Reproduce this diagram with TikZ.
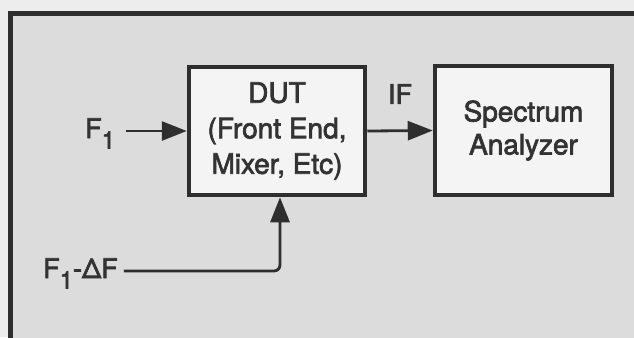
\documentclass[tikz,border=0pt]{standalone}
\usepackage{fontspec}
\setmainfont{TeX Gyre Heros}[FakeBold=2.5]
\usetikzlibrary{arrows.meta,calc}
\definecolor{bgin}{HTML}{DCDCDC}
\definecolor{bgout}{HTML}{EDEDED}
\definecolor{boxfill}{HTML}{F4F4F4}
\definecolor{linec}{HTML}{2E2E2E}
\definecolor{textc}{HTML}{333333}
\newcommand{\subone}{\raisebox{-10.5bp}{\fontsize{24bp}{24bp}\selectfont 1}}
\begin{document}
\begin{tikzpicture}[x=1bp,y=-1bp,
  frame/.style={line width=5bp, draw=linec},
  blk/.style={draw=linec, fill=boxfill, line width=4.5bp, align=center, text=textc, inner sep=0pt},
  lbl/.style={text=textc, font=\fontsize{27bp}{34bp}\selectfont, inner sep=0pt},
  arr/.style={line width=2.8bp, draw=linec, -{Triangle[length=25bp,width=19bp]}}]
\useasboundingbox (0,0) rectangle (634,337);
\clip (0,0) rectangle (634,337);
\fill[bgout] (0,0) rectangle (634,337);
\fill[bgin] (10,13) rectangle (645,350);
\draw[frame] (10,350) -- (10,13) -- (645,13);

\node[blk, minimum width=176bp, minimum height=128bp, font=\fontsize{28bp}{35.5bp}\selectfont] (dut) at (277,131) {DUT\\(Front End,\\Mixer, Etc)};
\node[blk, minimum width=177bp, minimum height=129bp, font=\fontsize{28bp}{33bp}\selectfont] (sa) at (523.5,130.5) {Spectrum\\Analyzer};

\node[lbl, anchor=base west] (f1) at (85,138) {F\subone};
\node[lbl, anchor=base west] (df) at (43,278) {F\subone-ΔF};
\node[lbl] (if) at (400,94) {IF};

\coordinate (f1o) at ($(f1.base east)+(11,-7)$);
\coordinate (dfo) at ($(df.base east)+(6,-7)$);
\coordinate (dutin) at ($(dut.south)+(3,0)$);

\draw[arr] (f1o) -- (f1o -| dut.west);
\draw[arr] (dut.east) -- (sa.west);
\draw[arr, rounded corners=6bp] (dfo) -| (dutin);
\end{tikzpicture}
\end{document}
